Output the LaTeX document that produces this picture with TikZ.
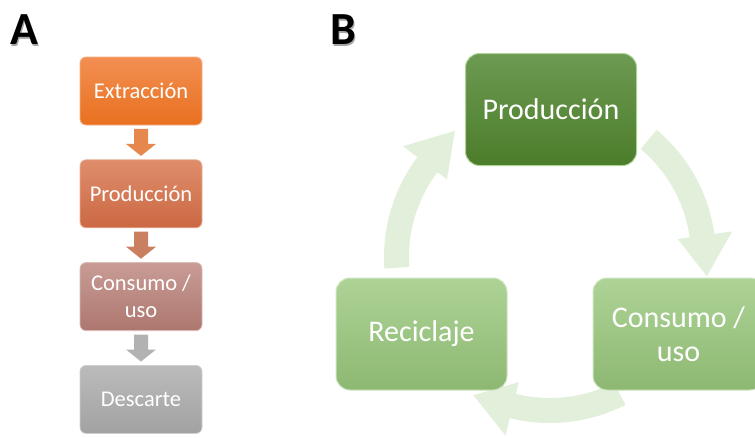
\documentclass[tikz,border=0pt]{standalone}
\usepackage{fontspec}
\setmainfont{Carlito}
\usetikzlibrary{calc,positioning}

\definecolor{extTop}{HTML}{F28F52}
\definecolor{extBot}{HTML}{E9701F}
\definecolor{prodTop}{HTML}{DF8D6B}
\definecolor{prodBot}{HTML}{CB6843}
\definecolor{consTop}{HTML}{C89C95}
\definecolor{consBot}{HTML}{AD776F}
\definecolor{descTop}{HTML}{BBBBBB}
\definecolor{descBot}{HTML}{A2A2A2}
\definecolor{verdeTop}{HTML}{6C9A52}
\definecolor{verdeBot}{HTML}{4C7D2A}
\definecolor{claroTop}{HTML}{ADD396}
\definecolor{claroBot}{HTML}{8DB872}
\definecolor{ciclo}{HTML}{E2EFDA}

\tikzset{
  pasoA/.style={rectangle, rounded corners=6pt, minimum width=122pt, minimum height=68pt,
    align=center, text=white, font=\fontsize{22.5}{27}\selectfont, line width=0.8pt},
  pasoB/.style={rectangle, rounded corners=14pt, minimum width=171pt, minimum height=112pt,
    align=center, text=white, font=\fontsize{30}{34}\selectfont, line width=1pt},
  etiqueta/.style={font=\fontsize{46}{46}\selectfont\bfseries, inner sep=0pt},
}

% block arrow pointing down, centred on #1
\newcommand{\bajada}[2]{%
  \fill[#2, shift={(#1)}] (-7pt,13.5pt) -- (7pt,13.5pt) -- (7pt,-1.5pt) -- (15pt,-1.5pt)
    -- (0pt,-13.5pt) -- (-15pt,-1.5pt) -- (-7pt,-1.5pt) -- cycle;}

% curved arrow of the cycle: tail angle, neck angle, tip angle
\newcommand{\giro}[3]{%
  \fill[ciclo, shift={(centro)}] (#1:166pt) arc[start angle=#1, end angle=#2, radius=166pt]
    -- (#2:184pt) -- (#3:158pt) -- (#2:129pt) -- (#2:141pt)
    arc[start angle=#2, end angle=#1, radius=141pt] -- cycle;}

\begin{document}
\begin{tikzpicture}
\useasboundingbox (0,0) rectangle (755pt,-437pt);
\clip (0,0) rectangle (755pt,-437pt);

% A: linear chain
\node[etiqueta, text=black!35] (labA-s) at (25.5pt,-31.5pt) {A};
\node[etiqueta] (labA) at (24pt,-30pt) {A};

\node[pasoA, top color=extTop, bottom color=extBot, draw=extTop!70!white] (ext) at (141pt,-91pt) {Extracción};
\node[pasoA, top color=prodTop, bottom color=prodBot, draw=prodTop!70!white, below=34pt of ext] (prod) {Producción};
\node[pasoA, top color=consTop, bottom color=consBot, draw=consTop!70!white, below=34pt of prod] (cons) {Consumo /\\uso};
\node[pasoA, top color=descTop, bottom color=descBot, draw=descTop!70!white, below=34pt of cons] (desc) {Descarte};

\coordinate (f1) at ($(ext.south)!0.5!(prod.north)$);
\coordinate (f2) at ($(prod.south)!0.5!(cons.north)$);
\coordinate (f3) at ($(cons.south)!0.5!(desc.north)$);
\bajada{f1}{extTop!95!black}
\bajada{f2}{prodTop!90!black}
\bajada{f3}{descTop!95!black}

% B: cycle
\node[etiqueta, text=black!35] (labB-s) at (344.5pt,-31.5pt) {B};
\node[etiqueta] (labB) at (343pt,-30pt) {B};

\coordinate (centro) at (550pt,-257pt);
\giro{50}{8}{-7}
\giro{-63}{-104}{-119}
\giro{184}{143}{127}

\node[pasoB, top color=verdeTop, bottom color=verdeBot, draw=claroTop] (bprod) at (551pt,-109.5pt) {Producción};
\node[pasoB, top color=claroTop, bottom color=claroBot, draw=claroTop!60!white] (brec) at (421.5pt,-334pt) {Reciclaje};
\node[pasoB, top color=claroTop, bottom color=claroBot, draw=claroTop!60!white] (bcons) at (678.5pt,-334pt) {Consumo /\\uso};
\end{tikzpicture}
\end{document}
